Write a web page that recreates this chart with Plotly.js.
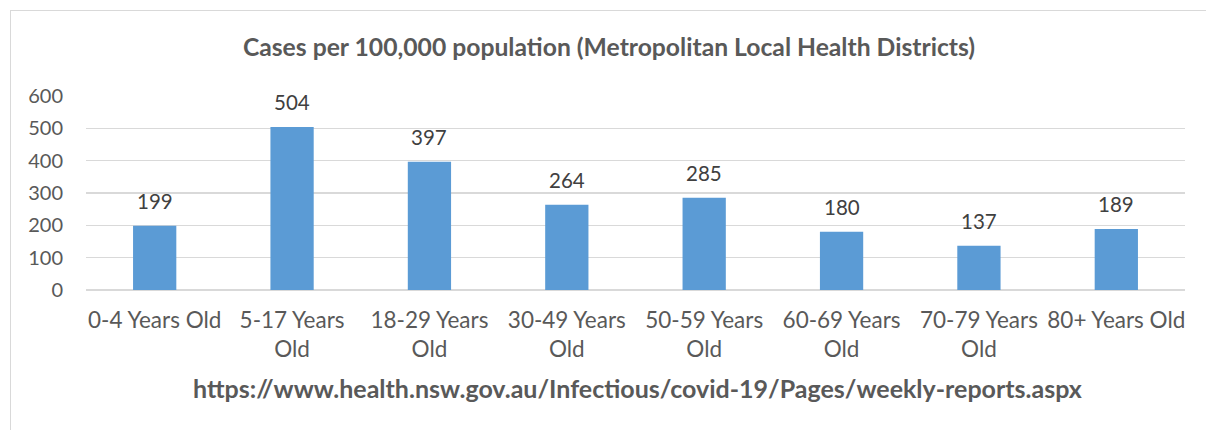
<!DOCTYPE html>
<html>
<head>
<meta charset="utf-8">
<script src="https://cdn.plot.ly/plotly-3.0.1.min.js"></script>
<style>
  html, body { margin: 0; padding: 0; background: #fff; }
  #frame { position: absolute; left: 10px; top: 10px; width: 1300px; height: 500px; border: 1px solid #d9d9d9; box-sizing: border-box; }
  #chart { position: absolute; left: 0; top: 0; width: 1206px; height: 430px; }
</style>
</head>
<body>
<div id="frame"></div>
<div id="chart"></div>
<script>
const categories = ["0-4 Years Old", "5-17 Years<br>Old", "18-29 Years<br>Old", "30-49 Years<br>Old", "50-59 Years<br>Old", "60-69 Years<br>Old", "70-79 Years<br>Old", "80+ Years Old"];
const cases = [199, 504, 397, 264, 285, 180, 137, 189];
const yTicks = [0, 100, 200, 300, 400, 500, 600];
const titleText = "Cases per 100,000 population (Metropolitan Local Health Districts)";
const sourceText = "https://www.health.nsw.gov.au/Infectious/covid-19/Pages/weekly-reports.aspx";

const FONT = "Lato, 'Open Sans', sans-serif";
const GREY = "#595959";

const trace = {
  type: "bar",
  x: categories,
  y: cases,
  marker: { color: "#5b9bd5" },
  hoverinfo: "skip"
};

const annotations = categories.map((c, i) => ({
  x: c, y: cases[i], xref: "x", yref: "y",
  text: String(cases[i]), showarrow: false,
  yanchor: "bottom", yshift: 11,
  font: { family: FONT, size: 20.5, color: "#404040" }
}));
annotations.push({
  x: 0.502, y: -0.505, xref: "paper", yref: "paper",
  text: "<b>" + sourceText + "</b>", showarrow: false,
  xanchor: "center", yanchor: "middle",
  font: { family: FONT, size: 25, color: GREY }
});

const layout = {
  width: 1206, height: 430,
  margin: { l: 86, r: 21, t: 96, b: 140 },
  paper_bgcolor: "rgba(0,0,0,0)",
  plot_bgcolor: "rgba(0,0,0,0)",
  showlegend: false,
  bargap: 0.685,
  title: {
    text: "<b>" + titleText + "</b>",
    x: 0.505, xanchor: "center", y: 0.89, yanchor: "middle",
    font: { family: FONT, size: 24.7, color: GREY }
  },
  xaxis: {
    tickfont: { family: FONT, size: 22.5, color: GREY },
    showgrid: false, showline: false, ticks: "", zeroline: false,
    ticklabelstandoff: 14
  },
  yaxis: {
    range: [0, 600],
    tickvals: yTicks,
    tickfont: { family: FONT, size: 20, color: GREY },
    gridcolor: "#d9d9d9", gridwidth: 1.5,
    zeroline: true, zerolinecolor: "#d9d9d9", zerolinewidth: 1.5,
    showline: false, ticks: "",
    ticklabelstandoff: 22
  },
  annotations: annotations
};

Plotly.newPlot("chart", [trace], layout, { displayModeBar: false, staticPlot: true });
</script>
</body>
</html>
